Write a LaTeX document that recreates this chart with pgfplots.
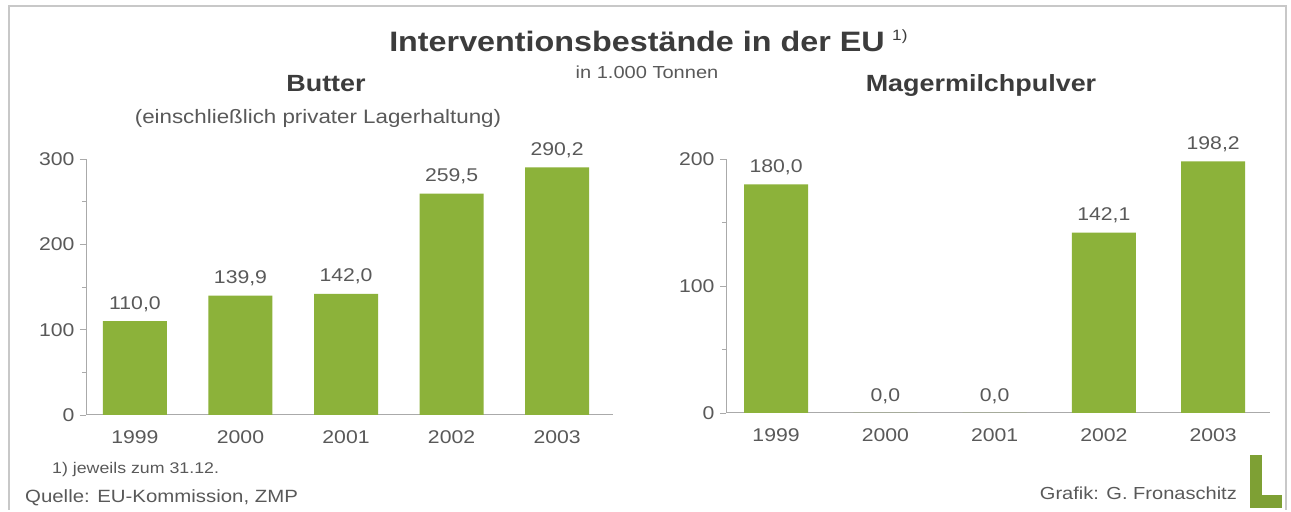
\documentclass[border=0pt]{standalone}
\usepackage{pgfplots}
\pgfplotsset{compat=1.18}
\usepackage{fontspec}
\setmainfont[FakeStretch=1.15]{Liberation Sans}
\definecolor{bargreen}{RGB}{140,178,58}
\definecolor{txt}{RGB}{60,60,60}
\definecolor{axgray}{RGB}{170,170,170}
\definecolor{frame}{RGB}{200,200,200}
\pgfplotsset{
  panel/.style={
    scale only axis,
    anchor=south west,
    axis x line*=bottom,
    axis y line*=left,
    axis line style={axgray, line width=1bp},
    ymin=0,
    xtick={0,1,2,3,4},
    xticklabels={1999,2000,2001,2002,2003},
    xtick style={draw=none},
    ytick style={axgray, line width=0.8bp},
    minor tick style={axgray, line width=0.8bp},
    tick align=outside,
    major tick length=6bp,
    minor tick length=4bp,
    ticklabel style={font=\fontsize{18.5}{20}\selectfont, text=txt!85},
    /pgf/number format/assume math mode=true,
    xticklabel style={yshift=-6bp},
    yticklabel style={xshift=-2bp},
    clip=false,
    ybar,
    bar width=64bp,
    nodes near coords={\pgfmathprintnumber[fixed, fixed zerofill, precision=1, use comma, 1000 sep={}, assume math mode=true]{\pgfplotspointmeta}},
    nodes near coords style={font=\fontsize{18.5}{20}\selectfont, text=txt!85, yshift=6bp},
  }
}
\begin{document}
\begin{tikzpicture}[x=1bp,y=1bp]
\fill[white] (0,0) rectangle (1291,512);
\draw[frame, line width=1.2bp] (9,2) -- (9,506) -- (1286,506) -- (1286,2);
% Left panel
\begin{axis}[panel, at={(86bp,97bp)}, width=527bp, height=256bp,
  xmin=-0.464, xmax=4.53, ymax=300,
  ytick={0,100,200,300}, minor ytick={50,150,250}]
\addplot[fill=bargreen, draw=none] coordinates {(0,110.0) (1,139.9) (2,142.0) (3,259.5) (4,290.2)};
\end{axis}
% Right panel
\begin{axis}[panel, at={(726bp,99bp)}, width=544bp, height=254bp,
  xmin=-0.458, xmax=4.52, ymax=200,
  ytick={0,100,200}, minor ytick={50,150}]
\addplot[fill=bargreen, draw=none] coordinates {(0,180.0) (1,0.0) (2,0.0) (3,142.1) (4,198.2)};
\end{axis}
% Texts
\node[anchor=base, text=txt, font=\bfseries\fontsize{28.2}{32}\selectfont] at (637,460) {Interventionsbestände in der EU};
\node[anchor=base west, text=txt, font=\fontsize{15}{17}\selectfont, inner sep=0] at (892,471) {1)};
\node[anchor=base, text=txt!85, font=\fontsize{17.5}{19}\selectfont] at (647,433) {in 1.000 Tonnen};
\node[anchor=base, text=txt, font=\bfseries\fontsize{23.5}{26}\selectfont] at (326,420) {Butter};
\node[anchor=base, text=txt, font=\bfseries\fontsize{23.5}{26}\selectfont] at (981,420) {Magermilchpulver};
\node[anchor=base, text=txt!85, font=\fontsize{19.5}{21}\selectfont] at (318,388) {(einschließlich privater Lagerhaltung)};
\node[anchor=base west, text=txt!85, font=\fontsize{15.5}{17}\selectfont, inner sep=0] at (52,38) {1) jeweils zum 31.12.};
\node[anchor=base west, text=txt!85, font=\fontsize{17.8}{19}\selectfont, inner sep=0] at (25,9) {Quelle: EU-Kommission, ZMP};
\node[anchor=base east, text=txt!85, font=\fontsize{17.5}{19}\selectfont, inner sep=0] at (1237,12) {Grafik: G. Fronaschitz};
% logo
\fill[bargreen!90!black] (1250,4) rectangle (1262,57);
\fill[bargreen!90!black] (1250,4) rectangle (1282,17);
\pgfresetboundingbox
\path (0,0) rectangle (1291,512);
\end{tikzpicture}
\end{document}
